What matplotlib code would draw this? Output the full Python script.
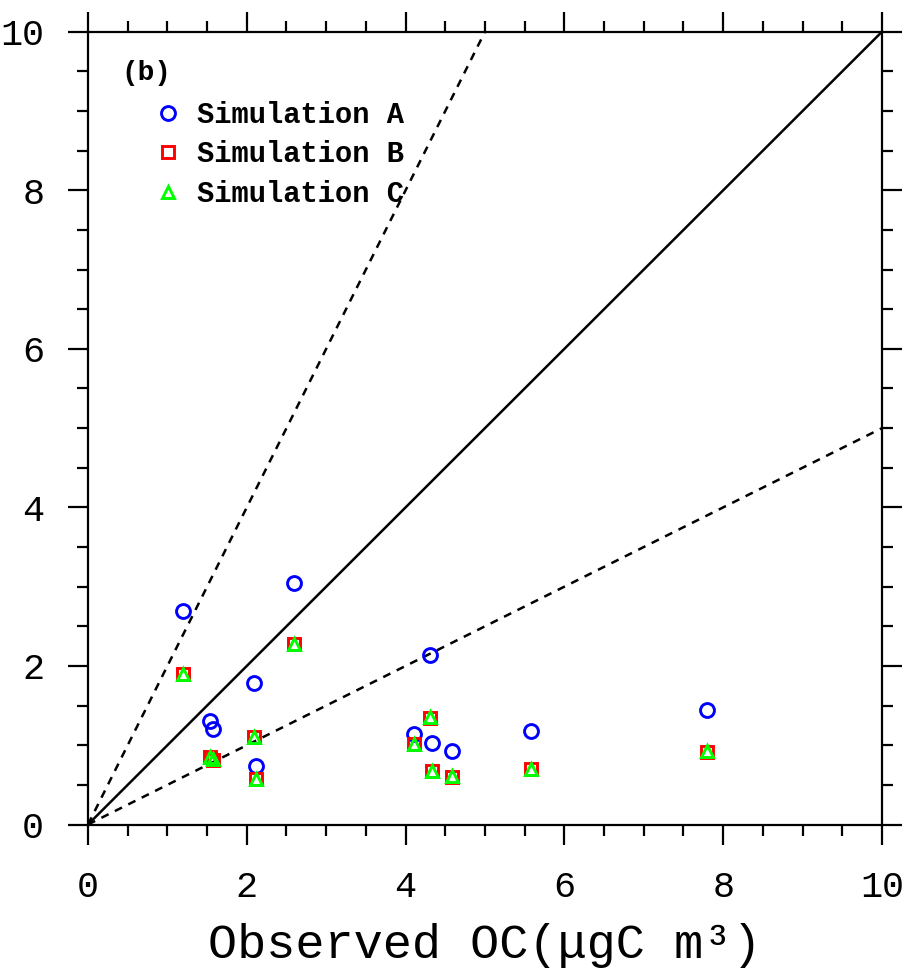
import matplotlib
matplotlib.use('Agg')
import matplotlib.pyplot as plt
from matplotlib.ticker import MultipleLocator
import numpy as np

plt.rcParams['font.family'] = ['Liberation Mono', 'DejaVu Sans Mono']

# Observed OC (x) and simulated OC (y), ugC m-3
obs_oc = [1.20, 2.59, 2.09, 1.54, 1.58, 2.12, 4.31, 4.11, 4.33, 4.59, 5.58, 7.80]
sim_a = [2.69, 3.05, 1.79, 1.31, 1.21, 0.74, 2.14, 1.14, 1.03, 0.93, 1.18, 1.44]
sim_b = [1.90, 2.28, 1.10, 0.85, 0.81, 0.58, 1.34, 1.02, 0.67, 0.60, 0.70, 0.92]
sim_c = [1.90, 2.28, 1.10, 0.85, 0.82, 0.58, 1.35, 1.02, 0.68, 0.61, 0.70, 0.93]

# reference lines 1:1, 2:1, 1:2
ref_x = np.array([0, 10])
ref_slopes = [1.0, 2.0, 0.5]
ref_styles = ['solid', 'dashed', 'dashed']

fig = plt.figure(figsize=(9.04, 9.74), dpi=100, facecolor='white')
ax = fig.add_axes([88 / 904, 149.5 / 974, 794 / 904, 792.8 / 974])

for slope, style in zip(ref_slopes, ref_styles):
    line, = ax.plot(ref_x, ref_x * slope, color='black', lw=1.8, zorder=2)
    if style == 'dashed':
        line.set_dashes((3.2, 2.8))

ha, = ax.plot(obs_oc, sim_a, 'o', ms=10, mfc='none', mec='#0000ff', mew=2.1,
              label='Simulation A', zorder=3)
hb, = ax.plot(obs_oc, sim_b, 's', ms=8.6, mfc='none', mec='#ff0000', mew=2.1,
              label='Simulation B', zorder=4)
hc, = ax.plot(obs_oc, sim_c, '^', ms=8.8, mfc='none', mec='#00ff00', mew=2.1,
              label='Simulation C', zorder=5)

ax.set_xlim(0, 10)
ax.set_ylim(0, 10)
ax.xaxis.set_major_locator(MultipleLocator(2))
ax.yaxis.set_major_locator(MultipleLocator(2))
ax.xaxis.set_minor_locator(MultipleLocator(0.5))
ax.yaxis.set_minor_locator(MultipleLocator(0.5))

for s in ax.spines.values():
    s.set_linewidth(1.6)

ax.tick_params(which='both', direction='out', top=True, right=True,
               labeltop=False, labelright=False, width=1.6)
ax.tick_params(which='major', length=14.5, labelsize=26.5)
ax.tick_params(which='minor', length=8)
ax.tick_params(axis='y', which='major', pad=17)
ax.tick_params(axis='x', which='major', pad=18)

ax.set_xlabel('Observed OC(μgC m³)', fontsize=35)
ax.xaxis.set_label_coords(0.5, -0.124)

ax.text(0.74, 9.48, '(b)', fontsize=20, fontweight='bold', ha='center', va='center')

leg = ax.legend(handles=[ha, hb, hc], loc='upper left',
                bbox_to_anchor=(0.0826, 0.913), frameon=False,
                prop={'family': 'Liberation Mono', 'weight': 'bold', 'size': 20.7},
                handlelength=1.0, handletextpad=0.5, labelspacing=0.41,
                borderpad=0, borderaxespad=0, numpoints=1)

fig.savefig('out.png', dpi=100, facecolor='white')
